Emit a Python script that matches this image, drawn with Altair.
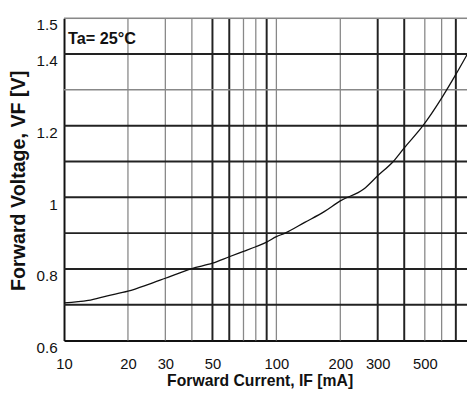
import altair as alt
import pandas as pd

# Forward current (mA) and forward voltage (V)
current = [10, 13, 16, 20, 25, 30, 40, 50, 60, 70, 80, 90, 100, 110, 136, 168, 200,
           258, 300, 355, 400, 490, 600, 700, 790]
voltage = [0.705, 0.712, 0.725, 0.738, 0.757, 0.774, 0.801, 0.816, 0.834, 0.849, 0.862,
           0.875, 0.89, 0.90, 0.93, 0.96, 0.99, 1.023, 1.06, 1.10, 1.138, 1.20, 1.277,
           1.343, 1.398]

x_grid_bold = [50, 60, 90, 300, 400, 700]
x_grid_thin = [20, 30, 40, 70, 80, 100, 200, 500, 600]
y_grid_bold = [0.7, 0.8, 0.9, 1.0, 1.1, 1.2, 1.4]
y_grid_thin = [1.3, 1.5]

x_labels = [10, 20, 30, 50, 100, 200, 300, 500]
y_labels = [0.6, 0.8, 1.0, 1.2, 1.4, 1.5]

FONT = "Liberation Sans, Arial, sans-serif"

xs = alt.Scale(type="log", domain=[10, 790], nice=False)
ys = alt.Scale(domain=[0.6, 1.5], nice=False, zero=False)

curve_df = pd.DataFrame({"I": current, "V": voltage})

xaxis = alt.Axis(values=x_labels, grid=False, ticks=False, labelFont=FONT, labelFontSize=15,
                 labelColor="#111", labelPadding=16, domainColor="#111", domainWidth=2,
                 title="Forward Current, IF [mA]", titleFont=FONT, titleFontSize=16,
                 titleFontWeight="bold", titleColor="#111", titleX=199, titleY=46,
                 titleBaseline="alphabetic", labelFlush=False)
yaxis = alt.Axis(values=y_labels, grid=False, ticks=False, labelFont=FONT, labelFontSize=15.5,
                 labelColor="#111", labelPadding=7, labelOffset=7,
                 labelExpr="format(datum.value, '~g')",
                 domainColor="#111", domainWidth=2,
                 title="Forward Voltage, VF [V]", titleFont=FONT, titleFontSize=20,
                 titleFontWeight="bold", titleColor="#111", titleX=-46, titleY=165,
                 titleBaseline="middle", titleAngle=270)

vb = alt.Chart(pd.DataFrame({"I": x_grid_bold})).mark_rule(color="#222", strokeWidth=2).encode(
    x=alt.X("I:Q", scale=xs))
vt = alt.Chart(pd.DataFrame({"I": x_grid_thin})).mark_rule(color="#888", strokeWidth=1.3).encode(
    x=alt.X("I:Q", scale=xs))
hb = alt.Chart(pd.DataFrame({"V": y_grid_bold})).mark_rule(color="#222", strokeWidth=2).encode(
    y=alt.Y("V:Q", scale=ys))
ht = alt.Chart(pd.DataFrame({"V": y_grid_thin})).mark_rule(color="#888", strokeWidth=1.5).encode(
    y=alt.Y("V:Q", scale=ys))

line = alt.Chart(curve_df).mark_line(color="#111", strokeWidth=1.3, interpolate="monotone").encode(
    x=alt.X("I:Q", scale=xs, axis=xaxis),
    y=alt.Y("V:Q", scale=ys, axis=yaxis),
)

label = alt.Chart(pd.DataFrame({"t": ["Ta= 25°C"]})).mark_text(
    font=FONT, fontSize=16.5, fontWeight="bold", align="left", baseline="middle", color="#111"
).encode(x=alt.value(4), y=alt.value(21), text="t:N")

chart = alt.layer(vt, vb, ht, hb, line, label).properties(
    width=410, height=328,
    padding={"left": 57, "top": 7, "right": 0, "bottom": 52},
    autosize=alt.AutoSizeParams(type="none"),
).configure_view(stroke=None).configure(background="white")

chart.save("out.html", embed_options={"renderer": "svg", "actions": False})
